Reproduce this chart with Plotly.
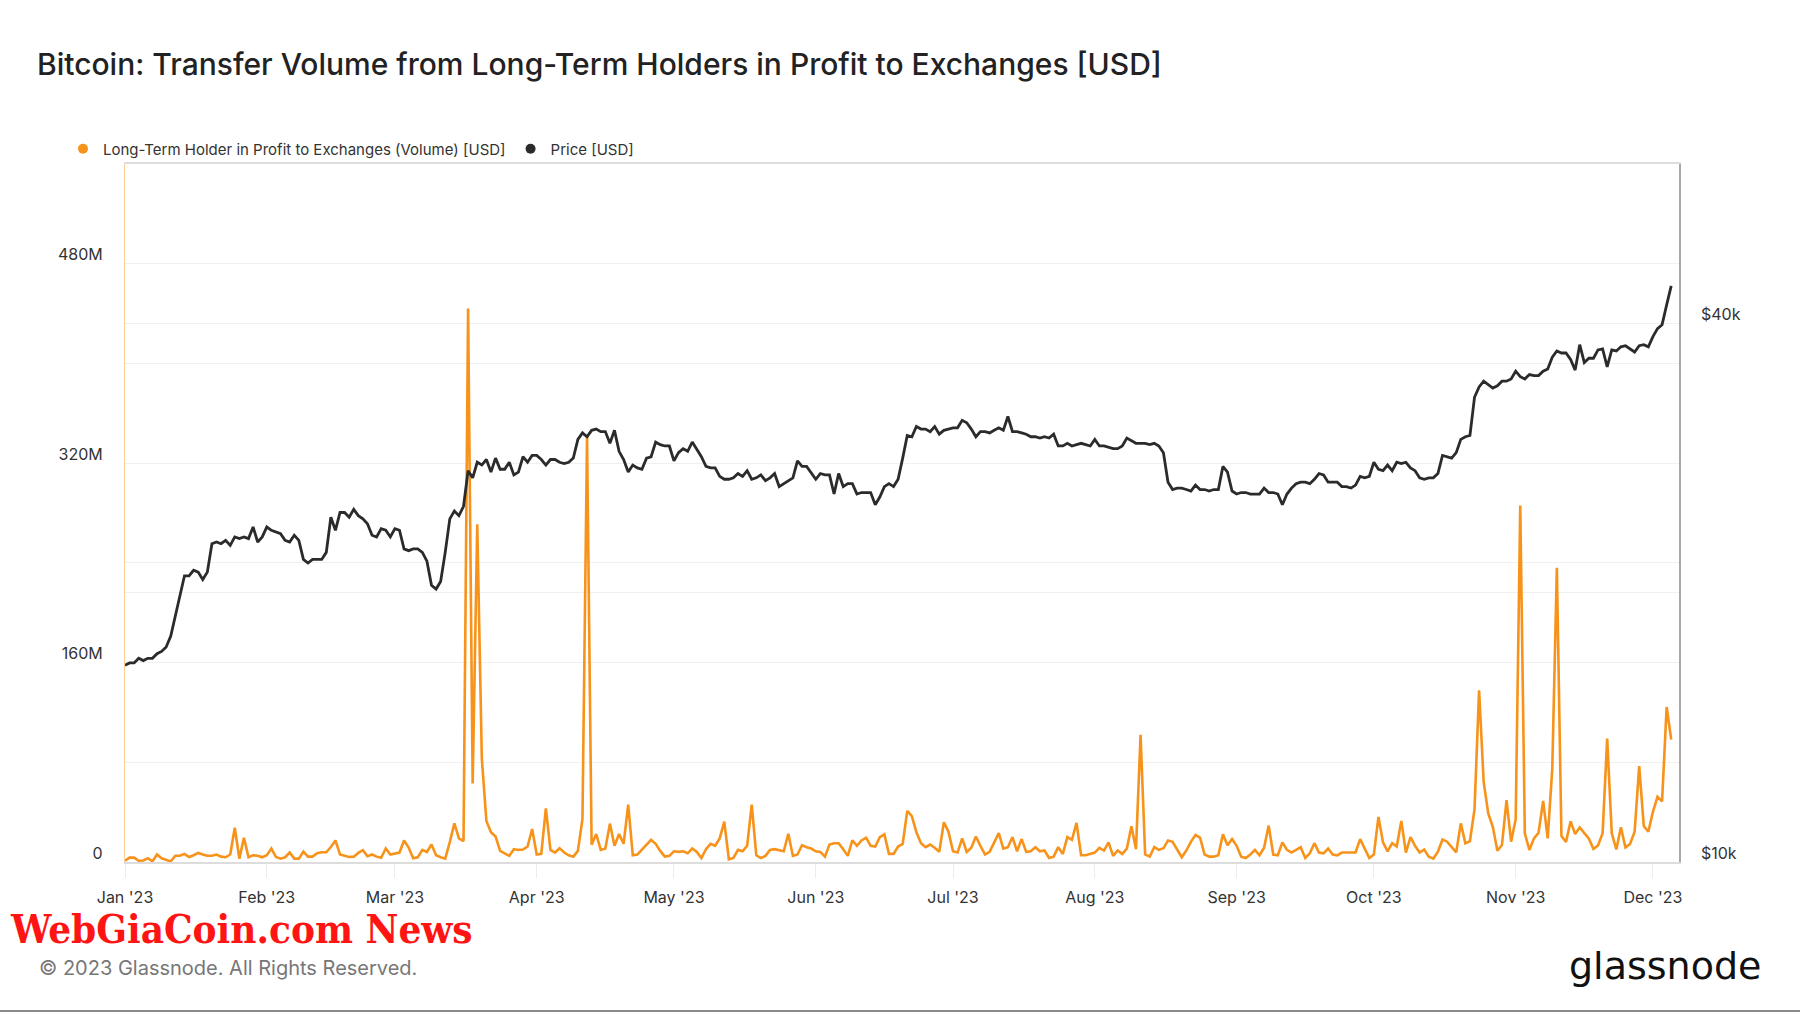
import numpy as np
import pandas as pd
import plotly.graph_objects as go

# ---------------- data ----------------
start_date = "2023-01-01"

vol_jan = [1, 3.5, 3.5, 1, 1.2, 3, 0.5, 6, 3, 1.5, 0.5, 5, 5, 6.5, 4, 5.4, 7.3, 6, 5, 5, 6, 4.3, 3.8, 6, 27.5, 2.7, 19.5, 3.8, 5.4, 5, 3.8]
vol_feb = [5.4, 10.8, 4, 2.7, 3.8, 7.6, 2.7, 2.7, 8.4, 4.3, 4.3, 7, 7.8, 7.8, 12, 17.3, 6, 5, 4, 4.3, 7.3, 9.5, 4.6, 6, 4.3, 3.4, 10.8, 6]
vol_mar = [6.8, 7.6, 17.3, 11.6, 3, 3.8, 9.7, 8, 14, 5.4, 3.8, 2.7, 16, 31, 19, 16.8, 444, 63, 271, 83, 33, 23.8, 20.5, 8.9, 7, 4.9, 10.3, 9.7, 10, 12.4, 26.5]
vol_apr = [6, 6.5, 43, 9.7, 7.6, 11, 7.6, 5.4, 4.3, 8.9, 34.6, 341, 13.8, 22.4, 9.7, 10.8, 30.8, 13, 22.4, 14.6, 46, 5.4, 6, 10, 13.5, 17.8, 14.6, 8.9, 4.3, 4.9]
vol_may = [8.6, 8.1, 8.6, 7, 10.8, 8.1, 3.2, 10.3, 14.6, 13, 18.9, 32.4, 2.2, 3.2, 9.7, 8.6, 13, 46, 5.4, 3.2, 4.9, 9.7, 10.3, 9.2, 8.6, 22.7, 4.9, 6, 13.5, 11.9, 10.8]
vol_jun = [8.6, 8.1, 4.3, 14, 15.1, 15.1, 10.3, 4.9, 17.3, 13, 17.3, 19.5, 13, 12.4, 20, 22.2, 6.5, 6.5, 12.4, 14.5, 41, 36.8, 23.8, 15.1, 11.9, 14, 11.4, 8.1, 31.9, 24.3]
vol_jul = [8.6, 7.6, 18.9, 8.1, 11.4, 20.5, 13, 6, 8.1, 16.2, 23.2, 10.8, 11.9, 20, 8.6, 18.4, 8.1, 8.6, 11.9, 8.6, 9.2, 3.2, 4.3, 11.9, 6.5, 20, 17.8, 31.4, 5.4, 5.4, 6.5]
vol_aug = [7.6, 11.4, 9.2, 15.7, 4.9, 9.2, 6.5, 10.8, 28.6, 10.3, 102, 6, 4.3, 11.9, 9.7, 11, 17.3, 16.2, 9.7, 3.8, 9.2, 16.2, 21.6, 19.5, 6, 4.3, 4.3, 5.4, 22.2, 13.5, 18.4]
vol_sep = [13, 4.3, 3.2, 6, 9.7, 5.4, 11.4, 29.2, 6, 5.4, 15.7, 9.7, 7.6, 9.7, 11.9, 3.2, 7, 15.1, 7.6, 7, 10.8, 6, 5.4, 7.6, 7.6, 7.6, 7.6, 18.4, 10.8, 3.2]
vol_oct = [6, 36.2, 15.7, 8.6, 15.1, 12.4, 33, 7.6, 20, 13, 7.6, 10, 4.3, 2.7, 8.3, 18.1, 16.3, 11.7, 7.7, 31, 15, 16.8, 42.2, 137.7, 64.3, 39, 28.3, 9, 13.6, 49.6, 16.3]
vol_nov = [34.2, 286, 23, 9.6, 19, 23.5, 49, 19, 75, 236, 20.8, 16, 32.6, 22.4, 27.8, 23.5, 18.7, 10.4, 13.3, 23, 99, 23, 10.1, 27.8, 11.7, 14.4, 24.3, 76.9, 28.8, 24.3]
vol_dec = [40.3, 52.3, 48.6, 124.4, 98.2]

price_jan = [16.6, 16.7, 16.7, 16.9, 16.8, 16.9, 16.9, 17.1, 17.2, 17.4, 17.9, 18.8, 19.9, 20.9, 20.9, 21.2, 21.1, 20.7, 21.1, 22.7, 22.8, 22.7, 22.9, 22.6, 23.1, 23.0, 23.1, 23.0, 23.7, 22.8, 23.1]
price_feb = [23.7, 23.5, 23.4, 23.3, 22.9, 22.8, 23.2, 22.9, 21.8, 21.6, 21.8, 21.8, 21.8, 22.2, 24.3, 23.5, 24.6, 24.6, 24.3, 24.8, 24.4, 24.2, 23.9, 23.2, 23.1, 23.6, 23.5, 23.1]
price_mar = [23.6, 23.5, 22.4, 22.3, 22.4, 22.4, 22.2, 21.7, 20.4, 20.2, 20.6, 22.2, 24.2, 24.7, 24.4, 25.0, 27.4, 26.9, 28.0, 27.8, 28.2, 27.3, 28.3, 27.5, 27.5, 28.0, 27.1, 27.3, 28.4, 28.0, 28.5]
price_apr = [28.5, 28.2, 27.8, 28.2, 28.2, 28.0, 27.9, 28.0, 28.3, 29.7, 30.2, 29.9, 30.4, 30.5, 30.3, 30.3, 29.4, 30.4, 28.8, 28.2, 27.3, 27.8, 27.6, 27.5, 28.3, 28.4, 29.5, 29.3, 29.2, 29.2]
price_may = [28.1, 28.7, 29.0, 28.8, 29.5, 28.9, 28.4, 27.7, 27.6, 27.6, 27.0, 26.8, 26.8, 26.9, 27.2, 27.0, 27.4, 26.8, 26.9, 27.1, 26.7, 26.9, 27.2, 26.3, 26.5, 26.7, 26.9, 28.1, 27.7, 27.7, 27.2]
price_jun = [26.8, 27.2, 27.1, 27.1, 25.8, 27.2, 26.3, 26.5, 26.5, 25.8, 25.9, 25.9, 25.9, 25.1, 25.6, 26.3, 26.5, 26.3, 26.8, 28.3, 30.0, 29.9, 30.7, 30.5, 30.5, 30.3, 30.7, 30.1, 30.4, 30.5]
price_jul = [30.6, 30.6, 31.2, 31.0, 30.5, 29.9, 30.3, 30.3, 30.2, 30.4, 30.6, 30.4, 31.5, 30.3, 30.3, 30.2, 30.1, 29.9, 29.9, 29.8, 29.9, 29.8, 30.1, 29.2, 29.2, 29.4, 29.2, 29.3, 29.4, 29.3, 29.2]
price_aug = [29.7, 29.2, 29.2, 29.1, 29.0, 29.0, 29.2, 29.8, 29.6, 29.4, 29.4, 29.4, 29.3, 29.4, 29.2, 28.7, 26.6, 26.1, 26.2, 26.2, 26.1, 26.0, 26.4, 26.1, 26.1, 26.0, 26.1, 26.1, 27.7, 27.3, 26.0]
price_sep = [25.8, 25.9, 25.9, 25.8, 25.8, 25.8, 26.2, 25.9, 25.9, 25.8, 25.1, 25.8, 26.2, 26.5, 26.6, 26.6, 26.5, 26.8, 27.2, 27.1, 26.6, 26.6, 26.6, 26.3, 26.3, 26.2, 26.4, 27.0, 26.9, 27.0]
price_oct = [28.0, 27.5, 27.4, 27.8, 27.4, 28.0, 27.9, 28.0, 27.6, 27.4, 26.9, 26.8, 26.9, 26.9, 27.2, 28.5, 28.4, 28.3, 28.7, 29.7, 29.9, 30.0, 33.1, 34.0, 34.5, 34.2, 33.9, 34.1, 34.5, 34.5, 34.7]
price_nov = [35.4, 34.9, 34.7, 35.1, 35.0, 35.0, 35.4, 35.6, 36.7, 37.3, 37.1, 37.1, 36.5, 35.5, 37.9, 36.2, 36.6, 36.6, 37.4, 37.5, 35.8, 37.4, 37.3, 37.7, 37.8, 37.5, 37.2, 37.8, 37.9, 37.7]
price_dec = [38.7, 39.5, 39.9, 42.0, 44.1]

left_tick_vals = [0, 160e6, 320e6, 480e6]
left_tick_text = ["0", "160M", "320M", "480M"]
left_minor_vals = [80e6, 240e6, 400e6]
right_tick_vals = [10000, 40000]
right_tick_text = ["$10k", "$40k"]
right_minor_vals = [20000]

vol_name = "Long-Term Holder in Profit to Exchanges (Volume) [USD]"
price_name = "Price [USD]"

# ---------------- assemble ----------------
volume_m = (vol_jan + vol_feb + vol_mar + vol_apr + vol_may + vol_jun + vol_jul
            + vol_aug + vol_sep + vol_oct + vol_nov + vol_dec)
price_k = (price_jan + price_feb + price_mar + price_apr + price_may + price_jun
           + price_jul + price_aug + price_sep + price_oct + price_nov + price_dec)
dates = pd.date_range(start_date, periods=len(volume_m), freq="D")
volume = [v * 1e6 for v in volume_m]
price = [p * 1000 for p in price_k]

ORANGE = "#f7931a"
DARK = "#2b2b2b"
FONT = "Inter"

W, H = 1800, 1013
L, R, T, B = 125, 121, 164, 151
PW, PH = W - L - R, H - T - B


def px_x(x):
    return (x - L) / PW


def px_y(y):
    return (H - B - y) / PH


fig = go.Figure()
fig.add_trace(go.Scatter(x=dates, y=price, yaxis="y2", mode="lines",
                         line=dict(color=DARK, width=2.8), name=price_name,
                         showlegend=False, hoverinfo="skip"))
fig.add_trace(go.Scatter(x=dates, y=volume, yaxis="y", mode="lines",
                         line=dict(color=ORANGE, width=2.6), name=vol_name,
                         showlegend=False, hoverinfo="skip"))
# legend entries (dots)
fig.add_trace(go.Scatter(x=[None], y=[None], mode="markers", name=vol_name,
                         marker=dict(color=ORANGE, size=10, symbol="circle")))
fig.add_trace(go.Scatter(x=[None], y=[None], mode="markers", name=price_name,
                         marker=dict(color=DARK, size=10, symbol="circle")))

GRID = "#f0f0f0"
fig.update_layout(
    width=W, height=H,
    margin=dict(l=L, r=R, t=T, b=B, pad=0),
    paper_bgcolor="white", plot_bgcolor="white",
    font=dict(family=FONT, color="#333333", size=16),
    title=dict(text="Bitcoin: Transfer Volume from Long-Term Holders in Profit to Exchanges [USD]",
               x=37 / W, xanchor="left", y=1 - 64 / H, yanchor="middle",
               font=dict(family=FONT, size=30, color="#222222", weight=500)),
    legend=dict(orientation="h", x=px_x(63), xanchor="left", y=px_y(149), yanchor="middle",
                font=dict(family=FONT, size=15, color="#333333"),
                bgcolor="rgba(0,0,0,0)", itemwidth=30, tracegroupgap=0),
    xaxis=dict(type="date", range=["2023-01-01", "2023-12-06 16:48"],
               tick0="2023-01-01", dtick="M1", tickformat="%b '%y",
               showgrid=False, zeroline=False,
               showline=True, linecolor="#dddddd", linewidth=2, mirror=True,
               ticks="outside", ticklen=14, tickcolor="#ececec", tickwidth=1,
               tickfont=dict(family=FONT, size=16, color="#333333"),
               ticklabelstandoff=6),
    yaxis=dict(range=[0, 560e6], tickvals=left_tick_vals, ticktext=left_tick_text,
               showgrid=True, gridcolor=GRID, gridwidth=1, zeroline=False,
               showline=True, linecolor="rgba(247,147,26,0.45)", linewidth=1.2,
               ticks="", tickfont=dict(family=FONT, size=16, color="#333333"),
               ticklabelstandoff=18, ticklabelshift=-9,
               minor=dict(tickvals=left_minor_vals, showgrid=True, gridcolor=GRID, ticks="")),
    yaxis2=dict(type="log", range=[4, 4.7808], overlaying="y", side="right",
                tickvals=right_tick_vals, ticktext=right_tick_text,
                showgrid=True, gridcolor=GRID, gridwidth=1, zeroline=False,
                showline=True, linecolor="#a8a8a8", linewidth=1.5,
                ticks="", tickfont=dict(family=FONT, size=16, color="#333333"),
                ticklabelstandoff=17, ticklabelshift=-9,
                minor=dict(tickvals=right_minor_vals, showgrid=True, gridcolor=GRID, ticks="")),
)

fig.add_annotation(text="WebGiaCoin.com News", xref="paper", yref="paper",
                   x=px_x(8), y=px_y(928), xanchor="left", yanchor="middle", showarrow=False,
                   font=dict(family="DejaVu Serif Condensed", size=40, color="#ff1414", weight="bold"))
fig.add_annotation(text="© 2023 Glassnode. All Rights Reserved.", xref="paper", yref="paper",
                   x=px_x(37), y=px_y(968), xanchor="left", yanchor="middle", showarrow=False,
                   font=dict(family=FONT, size=20, color="#777777"))
fig.add_annotation(text="glassnode", xref="paper", yref="paper",
                   x=px_x(1763), y=px_y(966), xanchor="right", yanchor="middle", showarrow=False,
                   font=dict(family="DejaVu Sans", size=38, color="#111111", weight=500))
fig.add_shape(type="line", xref="paper", yref="paper",
              x0=px_x(0), x1=px_x(W), y0=px_y(1011), y1=px_y(1011),
              line=dict(color="#8a8a8a", width=2))

fig.write_html("out.html")
